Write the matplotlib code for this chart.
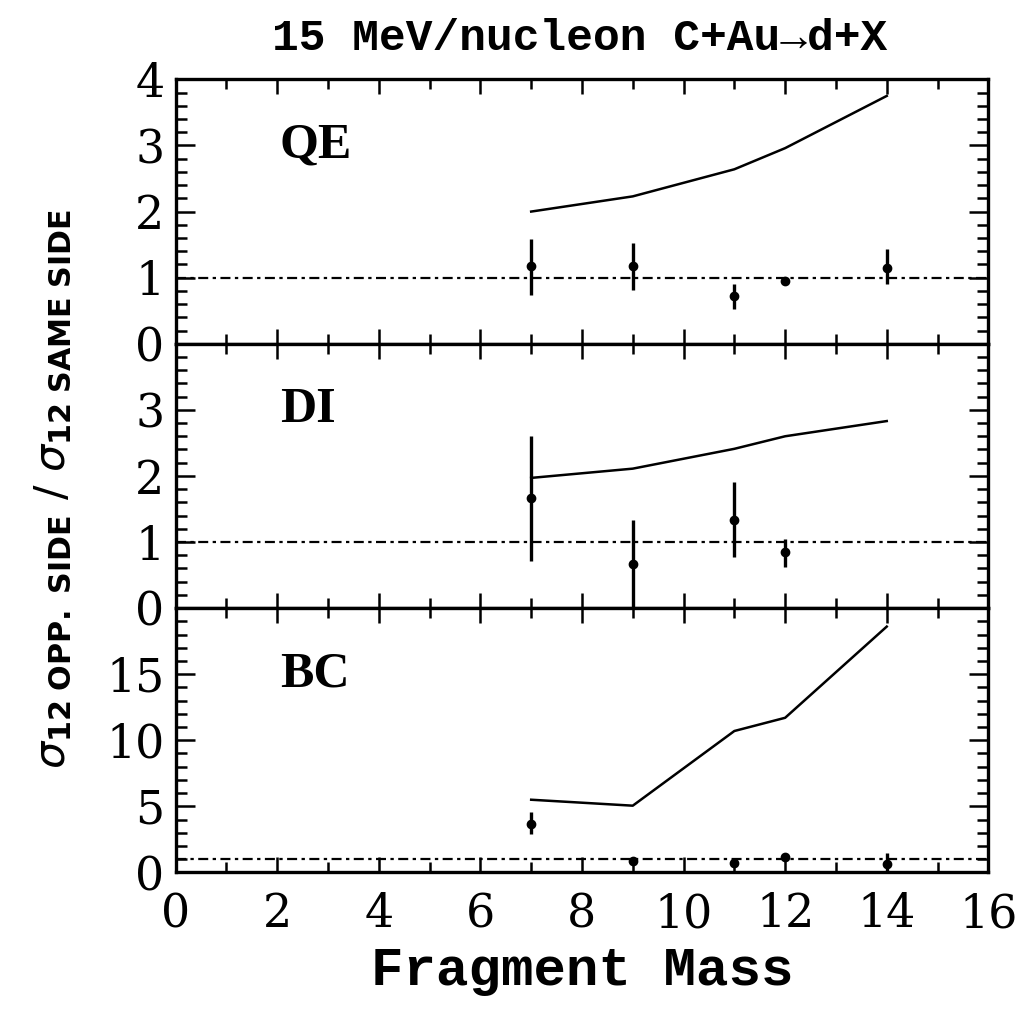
import numpy as np
import matplotlib.pyplot as plt
from matplotlib.ticker import MultipleLocator

# fragment masses
mass = [7, 9, 11, 12, 14]

# QE panel
qe_y = [1.17, 1.17, 0.72, 0.95, 1.15]
qe_lo = [0.43, 0.35, 0.19, 0.03, 0.25]
qe_hi = [0.42, 0.36, 0.19, 0.03, 0.29]
qe_curve = [2.0, 2.23, 2.64, 2.96, 3.75]

# DI panel
di_y = [1.66, 0.67, 1.34, 0.85]
di_lo = [0.94, 0.67, 0.57, 0.23]
di_hi = [0.95, 0.66, 0.57, 0.20]
di_mass = [7, 9, 11, 12]
di_curve = [1.97, 2.11, 2.41, 2.6, 2.83]

# BC panel
bc_y = [3.7, 0.85, 0.7, 1.2, 0.6]
bc_lo = [0.8, 0.1, 0.1, 0.1, 0.6]
bc_hi = [0.9, 0.1, 0.1, 0.1, 0.9]
bc_curve = [5.5, 5.05, 10.7, 11.7, 18.6]

panels = [
    ("QE", mass, qe_y, qe_lo, qe_hi, qe_curve, 4, 1, 0.2, True),
    ("DI", di_mass, di_y, di_lo, di_hi, di_curve, 4, 1, 0.2, False),
    ("BC", mass, bc_y, bc_lo, bc_hi, bc_curve, 20, 5, 1, False),
]

fig, axes = plt.subplots(3, 1, sharex=True, figsize=(10.21, 10.18), dpi=100)
fig.subplots_adjust(left=0.172, right=0.968, bottom=0.143, top=0.922, hspace=0)

num_font = dict(family="DejaVu Serif", size=33)

for i, (name, xs, ys, lo, hi, curve, ymax, major, minor, show_top) in enumerate(panels):
    ax = axes[i]
    ax.axhline(1, color="black", lw=1.6, dashes=(4.5, 2, 1.5, 2))
    ax.plot(mass, curve, color="black", lw=1.8)
    ax.errorbar(xs, ys, yerr=[lo, hi], fmt="o", color="black", ms=6,
                elinewidth=2.4, capsize=0)
    ax.set_xlim(0, 16)
    ax.set_ylim(0, ymax)
    ax.xaxis.set_major_locator(MultipleLocator(2))
    ax.xaxis.set_minor_locator(MultipleLocator(1))
    ax.yaxis.set_major_locator(MultipleLocator(major))
    ax.yaxis.set_minor_locator(MultipleLocator(minor))
    ax.tick_params(which="both", direction="in", top=True, right=True, width=1.8)
    ax.tick_params(which="major", length=14)
    ax.tick_params(which="minor", length=8)
    ax.tick_params(axis="x", which="major", length=11)
    ax.tick_params(axis="x", which="minor", length=7)
    ax.tick_params(axis="y", pad=8)
    for sp in ax.spines.values():
        sp.set_linewidth(2.4)
    ticks = np.arange(0, ymax + (major if show_top else 0) - 0.01, major)
    ticks = [t for t in ticks if t <= ymax]
    ax.set_yticks(ticks)
    ax.set_yticklabels([str(int(t)) for t in ticks], fontdict=num_font)
    ax.text(0.128, 0.75, name, transform=ax.transAxes, family="Liberation Serif",
            fontsize=36, fontweight="bold", va="center", ha="left")

axes[-1].set_xticks(np.arange(0, 17, 2))
axes[-1].set_xticklabels([str(t) for t in range(0, 17, 2)], fontdict=num_font)
axes[-1].tick_params(axis="x", pad=14)
axes[-1].set_xlabel("Fragment Mass", family="Liberation Mono", fontsize=39,
                    fontweight="bold", labelpad=6)

fig.text(0.568, 0.962, "15 MeV/nucleon C+Au\u2192d+X", family="Liberation Mono",
         fontsize=32, fontweight="bold", ha="center", va="center")

fig.text(0.052, 0.52,
         r"$\sigma_{\mathbf{12\ OPP.\ SIDE}}\ /\ \sigma_{\mathbf{12\ SAME\ SIDE}}$",
         rotation=90, fontsize=31, ha="center", va="center")

fig.savefig("out.png", dpi=100)
